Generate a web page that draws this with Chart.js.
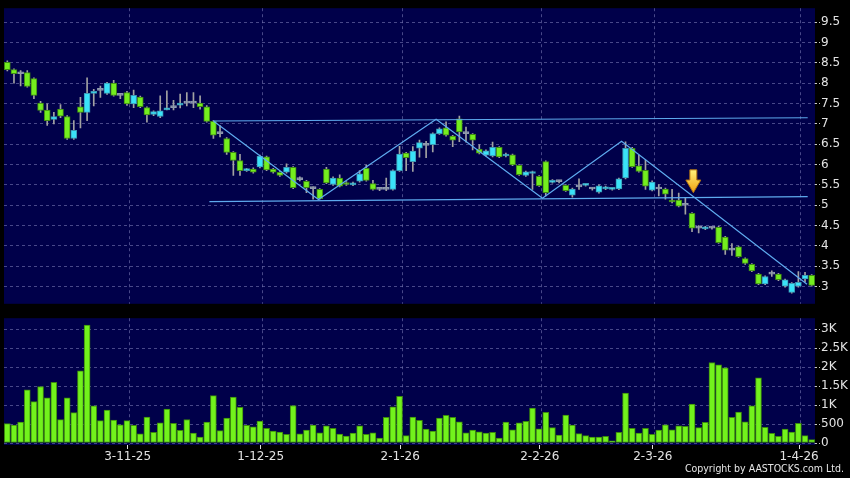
<!DOCTYPE html>
<html>
<head>
<meta charset="utf-8">
<script src="https://cdn.jsdelivr.net/npm/chart.js@4.4.1/dist/chart.umd.min.js"></script>
<style>
  html, body { margin: 0; padding: 0; background: #000; }
  #wrap { position: relative; width: 850px; height: 478px; overflow: hidden; background: #000; }
  #price { position: absolute; left: 0; top: 0; }
  #vol { position: absolute; left: 0; top: 310px; }
  #copy { position: absolute; right: 6px; top: 462px; color: #e6e6e6;
          font: 10.5px 'DejaVu Sans Condensed', 'DejaVu Sans', sans-serif; }
</style>
</head>
<body>
<div id="wrap">
  <canvas id="price" width="850" height="312"></canvas>
  <canvas id="vol" width="850" height="168"></canvas>
  <div id="copy">Copyright by AASTOCKS.com Ltd.</div>
</div>
<script>
// daily candles, index 0 .. 121
const opens = [8.51,8.33,8.23,8.26,8.11,7.51,7.34,7.11,7.36,7.18,
  6.64,7.42,7.28,7.75,7.82,7.75,8.00,7.70,7.77,7.49,
  7.66,7.40,7.23,7.18,7.34,7.40,7.46,7.51,7.51,7.51,
  7.42,7.06,6.76,6.64,6.30,6.10,5.85,5.89,5.94,6.19,
  5.89,5.81,5.81,5.93,5.63,5.59,5.41,5.39,5.89,5.51,
  5.67,5.56,5.50,5.59,5.91,5.53,5.39,5.39,5.39,5.85,
  6.28,6.07,6.40,6.47,6.49,6.76,6.90,6.70,7.12,6.76,
  6.74,6.38,6.23,6.21,6.42,6.21,6.24,5.98,5.73,5.78,
  5.71,6.07,5.56,5.58,5.49,5.25,5.45,5.49,5.40,5.32,
  5.40,5.39,5.40,5.67,6.40,5.97,5.86,5.37,5.40,5.40,
  5.13,5.13,5.00,4.80,4.44,4.42,4.44,4.46,4.22,3.90,
  3.98,3.69,3.55,3.31,3.07,3.31,3.31,3.01,2.86,3.01,
  3.19,3.28];
const closes = [8.33,8.23,8.23,7.92,7.70,7.33,7.08,7.18,7.19,6.64,
  6.84,7.28,7.75,7.80,7.82,8.00,7.70,7.70,7.49,7.70,
  7.42,7.22,7.30,7.32,7.39,7.40,7.51,7.51,7.51,7.42,
  7.06,6.72,6.76,6.30,6.10,5.85,5.89,5.81,6.21,5.87,
  5.81,5.73,5.93,5.43,5.63,5.43,5.41,5.16,5.55,5.67,
  5.47,5.51,5.55,5.77,5.61,5.39,5.39,5.39,5.85,6.26,
  6.17,6.33,6.54,6.47,6.76,6.88,6.72,6.60,6.80,6.76,
  6.60,6.28,6.34,6.42,6.19,6.26,5.99,5.75,5.82,5.82,
  5.48,5.31,5.61,5.58,5.36,5.40,5.45,5.51,5.40,5.48,
  5.45,5.42,5.65,6.40,5.95,5.83,5.47,5.57,5.40,5.27,
  5.08,4.98,5.00,4.44,4.44,4.46,4.44,4.08,3.90,3.90,
  3.74,3.57,3.39,3.07,3.25,3.31,3.17,3.17,3.08,3.11,
  3.28,3.03];
const highs = [8.55,8.35,8.31,8.31,8.13,7.55,7.49,7.28,7.47,7.20,
  7.08,7.65,8.13,7.85,7.93,8.02,8.07,7.72,7.80,7.83,
  7.68,7.42,7.32,7.69,7.81,7.58,7.73,7.77,7.77,7.69,
  7.45,7.08,6.96,6.66,6.32,6.25,5.91,5.92,6.23,6.21,
  5.91,5.83,6.02,5.95,5.70,5.61,5.45,5.41,5.93,5.70,
  5.75,5.58,5.57,5.85,5.99,5.61,5.42,5.67,5.87,6.45,
  6.30,6.44,6.60,6.57,6.78,6.90,7.05,6.72,7.19,6.92,
  6.76,6.49,6.36,6.55,6.44,6.28,6.26,6.00,5.84,5.84,
  5.73,6.09,5.63,5.61,5.51,5.42,5.65,5.53,5.43,5.50,
  5.47,5.44,5.67,6.56,6.42,6.23,6.11,5.60,5.51,5.42,
  5.39,5.30,5.19,4.82,4.50,4.48,4.47,4.48,4.24,4.06,
  4.00,3.71,3.57,3.33,3.27,3.39,3.33,3.19,3.10,3.37,
  3.35,3.30];
const lows = [8.30,8.00,7.93,7.90,7.62,7.28,6.96,7.00,7.15,6.62,
  6.62,6.90,7.08,7.44,7.65,7.72,7.68,7.62,7.45,7.40,
  7.40,7.04,7.20,7.15,7.34,7.34,7.39,7.44,7.40,7.36,
  7.04,6.64,6.68,6.25,5.73,5.73,5.83,5.79,5.92,5.85,
  5.79,5.71,5.79,5.41,5.60,5.31,5.15,5.15,5.53,5.49,
  5.45,5.49,5.48,5.57,5.59,5.37,5.36,5.36,5.37,5.83,
  5.85,5.83,6.18,6.17,6.31,6.74,6.70,6.44,6.56,6.55,
  6.36,6.26,6.21,6.19,6.17,6.19,5.97,5.73,5.71,5.39,
  5.46,5.23,5.54,5.55,5.34,5.20,5.39,5.47,5.37,5.30,
  5.38,5.37,5.38,5.65,5.93,5.81,5.39,5.35,5.23,5.15,
  5.06,4.96,4.78,4.35,4.32,4.40,4.41,4.06,3.79,3.77,
  3.72,3.55,3.37,3.05,3.05,3.25,3.15,2.99,2.84,2.99,
  3.12,3.01];
const volumes = [510,475,550,1400,1090,1490,1190,1600,615,1190,
  800,1900,3110,980,590,870,605,480,590,465,
  240,685,280,535,895,520,335,620,265,160,
  555,1250,325,660,1210,940,465,430,580,385,
  315,290,230,990,240,340,475,270,455,385,
  235,185,265,455,230,270,130,675,955,1230,
  195,685,595,368,316,658,728,675,561,272,
  342,298,263,281,132,553,351,535,570,921,
  377,807,404,211,737,474,246,193,158,158,
  175,61,281,1316,386,263,386,228,342,482,
  351,456,439,1026,404,544,2123,2061,1982,675,
  816,561,982,1719,412,254,175,368,289,518,
  193,88];

const dateTickIdx = [18, 38, 59, 80, 97, 119];
const dateTickLabels = ['3-11-25', '1-12-25', '2-1-26', '2-2-26', '2-3-26', '1-4-26'];
const priceTicks = [3, 3.5, 4, 4.5, 5, 5.5, 6, 6.5, 7, 7.5, 8, 8.5, 9, 9.5];
const volTicks = [0, 500, 1000, 1500, 2000, 2500, 3000];

// drawn trend lines (index, price)
const trendTop = [[31, 7.07], [120.4, 7.15]];
const trendBottom = [[30.4, 5.09], [120.4, 5.21]];
const trendZigzag = [[31, 7.07], [46.8, 5.14], [64.5, 7.11], [80.5, 5.17], [92.4, 6.57], [120.3, 3.06]];
const arrowMark = { x: 103.2, top: 5.87, neck: 5.62, tip: 5.31 };

const NAVY = '#00004a';
const GRID = 'rgba(110,110,170,0.65)';
const TEXT = '#e2e2e2';
const FONT = { family: 'DejaVu Sans', size: 12 };
const LINE = '#5eaaee';

const panelBg = {
  id: 'panelBg',
  beforeDraw(chart) {
    const a = chart.chartArea, ctx = chart.ctx;
    ctx.save();
    ctx.fillStyle = NAVY;
    ctx.fillRect(a.left, a.top, a.right - a.left, a.bottom - a.top);
    ctx.restore();
  },
  // vertical date grid lines
  beforeDatasetsDraw(chart) {
    const a = chart.chartArea, ctx = chart.ctx, xs = chart.scales.x;
    ctx.save();
    ctx.strokeStyle = GRID;
    ctx.lineWidth = 1;
    ctx.setLineDash([3, 3]);
    dateTickIdx.forEach(v => {
      const px = Math.round(xs.getPixelForValue(v + 0.3)) + 0.5;
      ctx.beginPath();
      ctx.moveTo(px, a.top);
      ctx.lineTo(px, a.bottom);
      ctx.stroke();
    });
    ctx.restore();
  }
};

const arrowPlugin = {
  id: 'arrow',
  afterDatasetsDraw(chart) {
    const xs = chart.scales.x, ys = chart.scales.y, ctx = chart.ctx;
    const cx = xs.getPixelForValue(arrowMark.x);
    const y0 = ys.getPixelForValue(arrowMark.top);
    const y1 = ys.getPixelForValue(arrowMark.neck);
    const y2 = ys.getPixelForValue(arrowMark.tip);
    const g = ctx.createLinearGradient(0, y0, 0, y2);
    g.addColorStop(0, '#fff27a');
    g.addColorStop(1, '#f0a010');
    ctx.save();
    ctx.beginPath();
    ctx.moveTo(cx - 3.5, y0);
    ctx.lineTo(cx + 3.5, y0);
    ctx.lineTo(cx + 3.5, y1);
    ctx.lineTo(cx + 7.5, y1);
    ctx.lineTo(cx, y2);
    ctx.lineTo(cx - 7.5, y1);
    ctx.lineTo(cx - 3.5, y1);
    ctx.closePath();
    ctx.fillStyle = g;
    ctx.fill();
    ctx.strokeStyle = '#b07010';
    ctx.lineWidth = 1;
    ctx.stroke();
    ctx.restore();
  }
};

function bodyColor(i) {
  if (closes[i] > opens[i]) return '#3ae2f8';
  if (closes[i] < opens[i]) return '#74ee1e';
  return '#8f9aae';
}
function bodyBorder(i) {
  if (closes[i] > opens[i]) return '#3a98b4';
  if (closes[i] < opens[i]) return '#3e8a14';
  return '#8f9aae';
}

const idx = opens.map((_, i) => i);
const toXY = pts => pts.map(p => ({ x: p[0], y: p[1] }));
const trendStyle = { type: 'line', borderColor: LINE, borderWidth: 1.2, pointRadius: 0, fill: false, tension: 0 };

const yAxisBase = {
  position: 'right',
  afterFit: s => { s.width = 35; },
  grid: { color: GRID, tickColor: '#c8c8c8', tickLength: 5, tickBorderDash: [2, 2] },
  border: { display: false, dash: [3, 3] }
};

new Chart(document.getElementById('price'), {
  type: 'bar',
  data: {
    datasets: [
      Object.assign({ data: toXY(trendTop) }, trendStyle),
      Object.assign({ data: toXY(trendBottom) }, trendStyle),
      Object.assign({ data: toXY(trendZigzag) }, trendStyle),
      {
        data: idx.map(i => ({ x: i, y: [opens[i], closes[i]] })),
        backgroundColor: idx.map(bodyColor),
        borderColor: idx.map(bodyBorder),
        borderWidth: 1,
        borderSkipped: false,
        barThickness: 6,
        minBarLength: 2,
        grouped: false
      },
      {
        data: idx.map(i => ({ x: i, y: [lows[i], highs[i]] })),
        backgroundColor: '#a2a2a2',
        borderWidth: 0,
        barThickness: 1,
        grouped: false
      }
    ]
  },
  options: {
    responsive: false,
    animation: false,
    layout: { padding: { left: 4, right: 0, top: 6, bottom: 6 } },
    plugins: { legend: { display: false }, tooltip: { enabled: false } },
    scales: {
      x: {
        type: 'linear', min: -0.5, max: 121.5, offset: false,
        afterFit: s => { s.height = 0; },
        ticks: { display: false },
        grid: { display: false },
        border: { display: false }
      },
      y: Object.assign({}, yAxisBase, {
        min: 2.58, max: 9.84,
        afterBuildTicks: s => { s.ticks = priceTicks.map(v => ({ value: v })); },
        ticks: { color: TEXT, font: FONT, padding: 1, callback: v => String(v) }
      })
    }
  },
  plugins: [panelBg, arrowPlugin]
});

new Chart(document.getElementById('vol'), {
  type: 'bar',
  data: {
    datasets: [{
      data: idx.map(i => ({ x: i, y: volumes[i] })),
      backgroundColor: '#72f21c',
      borderColor: '#3c8a0c',
      borderWidth: 1,
      borderSkipped: false,
      barThickness: 6
    }]
  },
  options: {
    responsive: false,
    animation: false,
    layout: { padding: { left: 4, right: 0, top: 8, bottom: 0 } },
    plugins: { legend: { display: false }, tooltip: { enabled: false } },
    scales: {
      x: {
        type: 'linear', min: -0.5, max: 121.5, offset: false,
        afterBuildTicks: s => { s.ticks = dateTickIdx.map(v => ({ value: v + 0.1 })); },
        afterFit: s => { s.height = 33; },
        ticks: {
          color: TEXT, font: FONT, padding: 1, maxRotation: 0, autoSkip: false,
          callback: (v, i) => dateTickLabels[i]
        },
        grid: { offset: false, drawOnChartArea: false, tickColor: '#e0e0e0', tickLength: 4 },
        border: { display: false }
      },
      y: Object.assign({}, yAxisBase, {
        min: -52, max: 3290,
        afterBuildTicks: s => { s.ticks = volTicks.map(v => ({ value: v })); },
        ticks: { color: TEXT, font: FONT, padding: 1,
          callback: v => v >= 1000 ? (v / 1000) + 'K' : String(v) }
      })
    }
  },
  plugins: [panelBg]
});
</script>
</body>
</html>
